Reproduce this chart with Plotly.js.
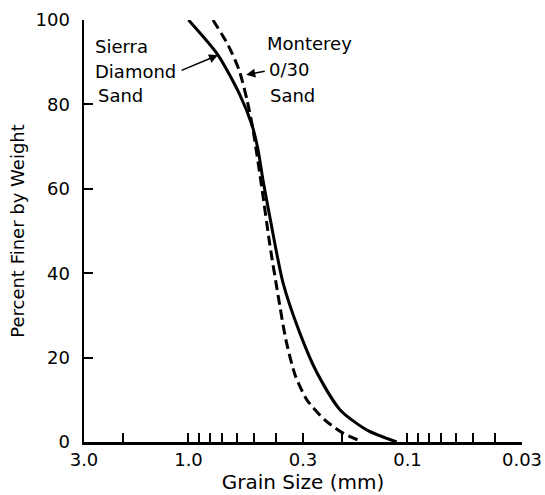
<!DOCTYPE html>
<html>
<head>
<meta charset="utf-8">
<script src="https://cdn.plot.ly/plotly-3.0.1.min.js"></script>
<style>
  html, body { margin: 0; padding: 0; background: #ffffff; }
  #chart { width: 545px; height: 495px; }
</style>
</head>
<body>
<div id="chart"></div>
<script>
// Grain size (mm) and percent finer by weight
const sierraSize    = [1.00, 0.733, 0.582, 0.513, 0.481, 0.457, 0.425, 0.370, 0.310, 0.259, 0.203, 0.153, 0.112];
const sierraFiner   = [100, 91.7, 82.2, 75.1, 69.2, 62.1, 53.3, 37.7, 25.8, 16.4, 7.6, 2.8, 0];

const montereySize  = [0.773, 0.660, 0.588, 0.540, 0.507, 0.461, 0.425, 0.390, 0.359, 0.326, 0.288, 0.238, 0.197, 0.165];
const montereyFiner = [100, 94.1, 88.2, 81.0, 73.9, 59.7, 46.7, 34.8, 24.2, 15.9, 10.0, 5.2, 2.1, 0.3];

const xTickVals  = [3, 2, 1, 0.9, 0.8, 0.7, 0.6, 0.5, 0.4, 0.3, 0.2, 0.1, 0.09, 0.08, 0.07, 0.06, 0.05, 0.04, 0.03];
const xTickText  = ['3.0', '', '1.0', '', '', '', '', '', '', '0.3', '', '0.1', '', '', '', '', '', '', '0.03'];
const yTickVals  = [0, 20, 40, 60, 80, 100];

const FONT = 'DejaVu Sans, Arial, sans-serif';
const TXT = { family: FONT, size: 18, color: '#000' };

const traces = [
  {
    x: sierraSize, y: sierraFiner, name: 'Sierra Diamond Sand',
    mode: 'lines', type: 'scatter',
    line: { color: '#000000', width: 3, shape: 'spline', smoothing: 0.7 }
  },
  {
    x: montereySize, y: montereyFiner, name: 'Monterey 0/30 Sand',
    mode: 'lines', type: 'scatter',
    line: { color: '#000000', width: 3, dash: '10px,5px', shape: 'spline', smoothing: 0.7 }
  }
];

const layout = {
  width: 545, height: 495,
  margin: { l: 84, r: 23, t: 20, b: 53 },
  paper_bgcolor: '#ffffff', plot_bgcolor: '#ffffff',
  showlegend: false,
  font: TXT,
  xaxis: {
    type: 'log',
    range: [Math.log10(3), Math.log10(0.03)],
    tickmode: 'array', tickvals: xTickVals, ticktext: xTickText,
    ticks: 'inside', ticklen: 9, tickwidth: 2, tickcolor: '#000',
    showline: true, linewidth: 2.5, linecolor: '#000',
    showgrid: false, zeroline: false,
    tickfont: TXT,
    title: { text: 'Grain Size (mm)', font: { family: FONT, size: 20, color: '#000' }, standoff: 6 }
  },
  yaxis: {
    range: [0, 100],
    tickmode: 'array', tickvals: yTickVals,
    ticks: 'inside', ticklen: 9, tickwidth: 2, tickcolor: '#000',
    ticklabelstandoff: 8,
    showline: true, linewidth: 2.5, linecolor: '#000',
    showgrid: false, zeroline: false,
    tickfont: TXT,
    title: { text: 'Percent Finer by Weight', font: { family: FONT, size: 18, color: '#000' }, standoff: 6 }
  },
  annotations: [
    { xref: 'paper', yref: 'paper', x: 0.021, y: 0.938, xanchor: 'left', yanchor: 'middle', text: 'Sierra', showarrow: false, font: TXT },
    { xref: 'paper', yref: 'paper', x: 0.021, y: 0.879, xanchor: 'left', yanchor: 'middle', text: 'Diamond', showarrow: false, font: TXT },
    { xref: 'paper', yref: 'paper', x: 0.028, y: 0.820, xanchor: 'left', yanchor: 'middle', text: 'Sand', showarrow: false, font: TXT },
    { xref: 'paper', yref: 'paper', x: 0.414, y: 0.945, xanchor: 'left', yanchor: 'middle', text: 'Monterey', showarrow: false, font: TXT },
    { xref: 'paper', yref: 'paper', x: 0.417, y: 0.882, xanchor: 'left', yanchor: 'middle', text: '0/30', showarrow: false, font: TXT },
    { xref: 'paper', yref: 'paper', x: 0.419, y: 0.822, xanchor: 'left', yanchor: 'middle', text: 'Sand', showarrow: false, font: TXT },
    { xref: 'x', yref: 'y', x: Math.log10(0.733), y: 91.7, text: '', showarrow: true,
      arrowhead: 2, arrowsize: 1.2, arrowwidth: 1.5, arrowcolor: '#000', ax: -38, ay: 16 },
    { xref: 'x', yref: 'y', x: Math.log10(0.545), y: 87, text: '', showarrow: true,
      arrowhead: 2, arrowsize: 1.2, arrowwidth: 1.5, arrowcolor: '#000', ax: 20, ay: -4 }
  ]
};

Plotly.newPlot('chart', traces, layout, { staticPlot: true, displayModeBar: false });
</script>
</body>
</html>
